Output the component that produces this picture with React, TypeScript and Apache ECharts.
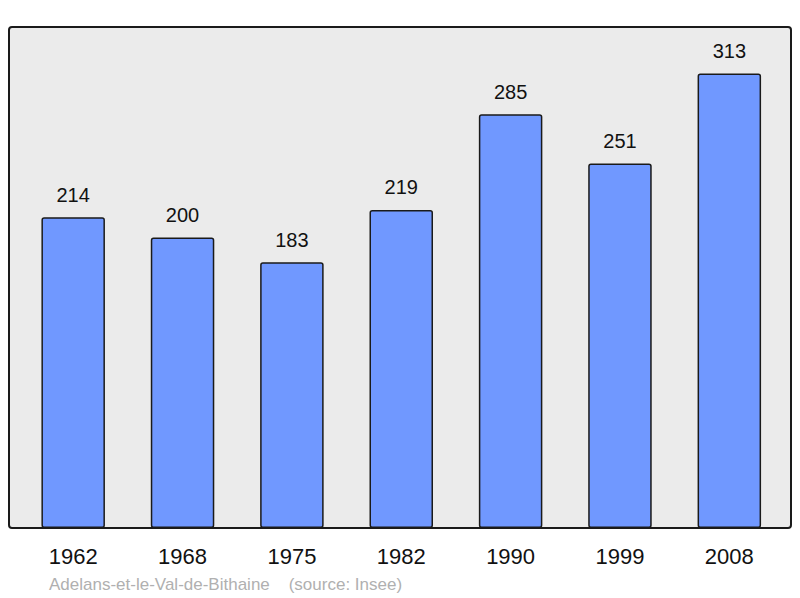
import { useEffect, useRef } from 'react';
import * as echarts from 'echarts';

const years = ['1962', '1968', '1975', '1982', '1990', '1999', '2008'];
const population = [214, 200, 183, 219, 285, 251, 313];
const footer = 'Adelans-et-le-Val-de-Bithaine    (source: Insee)';

export default function App() {
  const box = useRef<HTMLDivElement>(null);

  useEffect(() => {
    if (!box.current) return;
    const chart = echarts.init(box.current, undefined, { renderer: 'svg' });
    chart.setOption({
      animation: false,
      textStyle: { fontFamily: 'Liberation Sans, Arial, sans-serif' },
      grid: { left: 18.5, right: 16, top: 27, bottom: 70 },
      graphic: [
        {
          type: 'rect',
          z: -10,
          shape: { x: 9, y: 27, width: 782, height: 501, r: 3 },
          style: { fill: '#ebebeb', stroke: '#1a1a1a', lineWidth: 2 },
        },
        {
          type: 'text',
          left: 49,
          top: 576,
          style: {
            text: footer,
            fill: '#b0b0b0',
            fontSize: 17,
            fontFamily: 'Liberation Sans, Arial, sans-serif',
          },
        },
      ],
      xAxis: {
        type: 'category',
        data: years,
        axisLine: { show: false },
        axisTick: { show: false },
        axisLabel: { color: '#111', fontSize: 22, margin: 17 },
      },
      yAxis: {
        type: 'value',
        min: 0,
        max: 345,
        show: false,
        splitLine: { show: false },
      },
      series: [
        {
          type: 'bar',
          data: population,
          barWidth: 63.5,
          z: 2,
          itemStyle: {
            color: '#7098ff',
            borderColor: '#1a1a1a',
            borderWidth: 1.5,
            borderRadius: 2,
          },
          label: {
            show: true,
            position: 'top',
            distance: 12.5,
            color: '#111',
            fontSize: 20,
          },
        },
      ],
    });
    return () => chart.dispose();
  }, []);

  return <div ref={box} style={{ width: 800, height: 598, position: 'absolute', left: 0, top: 0 }} />;
}
